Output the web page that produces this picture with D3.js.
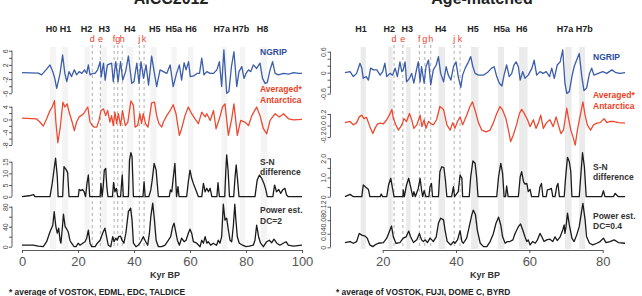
<!DOCTYPE html>
<html lang="en">
<head>
<meta charset="UTF-8">
<title>AICC2012 / Age-matched</title>
<style>
    body { margin: 0; background: #fff; }
    svg { display: block; }
    .title { font: bold 16px 'Liberation Sans', Arial, sans-serif; text-anchor: middle; fill: #222; }
    .event { font: bold 9px 'Liberation Sans', Arial, sans-serif; text-anchor: middle; fill: #222; }
    .letter { font: 9px 'Liberation Sans', Arial, sans-serif; text-anchor: middle; fill: #e8432c; }
    .dash { stroke: #9a9a9a; stroke-width: 0.8px; stroke-dasharray: 3, 3; }
    .series { fill: none; stroke-width: 1.3px; stroke-linejoin: round; }
    .y-axis text { font: 7px 'Liberation Sans', Arial, sans-serif; fill: #444; }
    .x-axis text { font: 13px 'Liberation Sans', Arial, sans-serif; fill: #555; }
    .y-axis path, .y-axis line, .x-axis path, .x-axis line { stroke: #333; stroke-width: 0.8px; }
    .tag { font: bold 8.5px 'Liberation Sans', Arial, sans-serif; }
    .axis-label { font: bold 9px 'Liberation Sans', Arial, sans-serif; text-anchor: middle; fill: #333; }
    .note { font: bold 8.4px 'Liberation Sans', Arial, sans-serif; fill: #222; }
</style>
</head>
<body>
<script src="https://d3js.org/d3.v7.min.js"></script>
<script>
// ---- AICC2012 panel data (kyr BP, value) ----
const aiccNgrip = [[0,-0.2],[5.8,-0.3],[7,-0.8],[8.8,0.8],[10,2.0],[11,0.1],[11.7,-1.8],[12.4,-4.6],[13.6,-0.4],[14.5,4.8],[15.3,-0.4],[16,-2.7],[16.8,0.1],[17.7,-1.3],[18.7,0.6],[19.5,-0.8],[20.4,0.1],[21.4,-0.4],[22.3,0.6],[23.1,-0.4],[23.7,2.0],[24.3,-0.8],[25.3,-0.4],[26.1,-0.4],[27,0.6],[27.9,2.9],[28.3,-1.3],[29.1,2.5],[29.7,-2.3],[30.5,2.0],[32,2.5],[32.6,-2.7],[33.5,2.9],[34.3,-2.7],[35.2,2.9],[36,-2.3],[37,0.1],[38,4.5],[39.2,-3.2],[40,-2.7],[41,2.5],[41.8,-3.2],[42.5,2.9],[43.4,-1.8],[44.3,2.0],[45.2,-3.7],[46.3,4.5],[47.3,-0.4],[48.1,-4.1],[49.3,0.6],[50.5,0.1],[51.7,-0.4],[52.9,2.0],[54,-4.1],[55.2,-0.4],[56.2,2.0],[57,-2.3],[57.9,2.6],[58.6,0.6],[59.5,2.9],[60.1,-1.3],[61.3,-1.1],[62.5,-0.4],[63.4,-0.4],[64.2,3.9],[65,-0.8],[66,0.1],[67.2,-0.4],[68.4,-0.4],[69.6,0.6],[70.5,2.9],[71.3,-4.1],[72.1,6.2],[73.1,-6.0],[73.9,-5.5],[74.8,1.5],[75.7,5.7],[76.7,-4.1],[77.5,0.1],[78.5,1.5],[79.3,-1.8],[80,-0.4],[80.9,0.6],[81.7,0.1],[82.6,2.0],[83.8,1.0],[85,2.5],[85.9,-1.8],[86.8,-3.2],[87.6,-3.0],[88.6,0.6],[89.5,2.9],[90.4,-0.4],[91.6,-0.8],[93.4,-0.4],[95.2,-0.6],[97,-0.2],[98.8,-0.4],[100,-0.4]];
const aiccAntarctica = [[0,0.4],[5.1,0.2],[6.4,-0.8],[7.6,-2.1],[8.8,0.2],[10,2.8],[10.8,3.9],[11.6,5.9],[12.1,-0.8],[12.8,-7.3],[13.6,-2.9],[14.6,5.4],[15.3,3.9],[16.1,4.9],[17,1.8],[17.9,-0.8],[18.7,-3.5],[19.5,-0.8],[20.4,0.8],[21.1,1.2],[22,1.8],[22.7,2.8],[23.5,3.9],[24.3,-0.8],[25.1,-1.9],[25.8,-2.4],[26.7,-2.4],[27.5,-0.3],[28.2,2.8],[29.1,3.3],[29.9,1.2],[30.6,2.8],[31.4,-0.8],[32,1.2],[32.6,-1.9],[33.2,2.3],[33.8,-1.3],[34.4,1.8],[35.2,-1.9],[35.9,2.8],[36.9,-1.9],[37.8,-0.8],[38.9,5.8],[39.8,4.4],[40.4,-2.4],[41.3,-1.9],[42.1,1.8],[42.7,-1.3],[43.3,1.8],[44.1,-1.3],[45,-2.4],[46.3,5.2],[47.3,5.4],[48.1,1.2],[48.9,-1.3],[49.9,-2.4],[50.5,-0.8],[51.7,1.2],[52.9,2.8],[54,4.6],[55,1.8],[56.2,-5.0],[57,-2.9],[58.2,1.2],[59.4,3.9],[60.6,1.8],[61.8,0.2],[63,-1.3],[64.2,2.3],[65.4,0.8],[66,1.8],[67.2,-0.3],[68.4,2.8],[69.3,-2.9],[70.5,0.2],[71.6,3.9],[72.5,4.9],[73.7,-5.0],[74.9,0.2],[75.7,4.9],[76.9,-5.0],[78.1,-0.3],[79.6,-0.8],[80.9,-1.9],[82.1,1.2],[83.8,3.9],[85,1.2],[86.2,-2.9],[87.4,-4.5],[88.6,-0.3],[90.4,1.8],[91.9,0.8],[93.4,1.8],[95.2,0.2],[97,-0.1],[100,0]];
const aiccDiff = [[0,0],[2.5,0.4],[4.2,0.9],[4.6,0],[10,0],[10.8,5.7],[11.5,12.2],[12,16.5],[12.6,8.6],[12.9,0],[14.5,0],[15,12.9],[15.7,11.7],[16.3,10.3],[16.8,0],[20.1,0],[20.4,3.1],[21,2.6],[21.6,3.1],[22.2,2.1],[22.7,0],[23.2,5.7],[23.7,9.3],[24.2,0],[27.9,0],[28.2,5.7],[28.6,0],[29,4.3],[29.4,11.4],[29.9,12.1],[30.3,4.3],[30.7,0],[32.3,0],[32.7,6.1],[33.2,2.1],[33.7,3.6],[34.2,0],[35.2,0],[35.8,9.3],[36.2,0],[38,0],[38.4,15.7],[38.9,18.9],[39.3,17.1],[39.8,0],[43.2,0],[43.6,6.4],[44,0],[45.3,0],[46,2.9],[46.5,7.1],[47.2,14.3],[47.9,11.4],[48.7,0],[52.6,0],[53,2.9],[53.5,2.1],[54,7.9],[54.6,14.3],[55.2,0],[55.7,4.3],[56.1,0],[58.8,0],[59.4,6.4],[60,11.4],[60.6,7.9],[61.2,5.7],[62.1,2.9],[63,0],[64.2,0],[64.8,5.7],[65.4,2.1],[66,3.6],[66.6,2.1],[67.2,3.6],[67.8,0],[69.6,0],[70,6.0],[70.5,0],[72.4,0],[72.8,11.4],[73.1,17.9],[73.6,11.4],[74.1,0],[75.6,0],[76.1,8.6],[76.5,13.6],[77,7.1],[77.5,0],[83.2,0],[84,7.1],[84.8,9.3],[85.6,7.9],[86.4,5.7],[87.1,2.9],[87.6,0],[89.6,0],[90.2,5.0],[90.9,2.1],[91.7,3.1],[92.4,1.4],[93.1,2.9],[93.9,3.6],[94.5,0.7],[95.1,0],[100,0]];
const aiccPower = [[0,3],[4,3],[5.8,1],[7.6,0],[8.8,10],[10,30],[11,43],[11.5,70],[12.1,40],[12.6,27],[13.1,37],[13.6,13],[13.9,7],[14.4,37],[14.8,65],[15.4,40],[16,35],[16.5,30],[17.1,13],[17.7,7],[18.6,0],[19.3,0],[20.1,7],[20.7,3],[21.7,7],[22.5,10],[23.1,17],[23.7,33],[24.3,7],[24.9,0],[26.1,0],[26.9,7],[27.9,13],[28.8,27],[29.6,37],[30.2,20],[30.8,3],[31.7,0],[32.4,20],[32.9,10],[33.5,17],[34,13],[34.5,20],[35.2,21],[35.7,13],[36.4,7],[37.1,27],[38,70],[38.8,77],[39.3,53],[39.8,7],[40.7,0],[41.5,3],[42.1,7],[42.7,13],[43.3,20],[44.2,10],[44.9,3],[45.5,27],[46,60],[46.7,87],[47.3,53],[47.9,13],[48.7,0],[49.9,0],[51.1,3],[52.3,13],[53.1,20],[53.8,40],[54.3,47],[54.9,30],[55.5,13],[56.2,3],[57,17],[57.9,10],[58.6,13],[59.4,27],[60,35],[60.6,27],[61.2,10],[62.4,7],[63.6,0],[64.2,13],[64.8,7],[65.4,20],[66,7],[66.5,10],[67.4,3],[68.3,7],[69.5,3],[70.1,13],[70.7,7],[71.3,20],[71.9,85],[72.5,53],[73.1,57],[73.7,33],[74.3,13],[74.9,10],[75.5,43],[76,85],[76.4,53],[76.9,20],[77.6,7],[78.8,3],[80,0],[81.2,1],[82.6,3],[83.2,13],[83.8,43],[84.5,20],[85.2,7],[86.2,0],[87.4,10],[88.3,13],[89.2,8],[90,15],[91,7],[92.1,3],[93.3,7],[94.3,10],[95.1,3],[96.9,1],[100,3]];

const aiccXTicks = [0, 20, 40, 60, 80, 100];
const aiccNgripTicks = [-6, -4, -2, 0, 2, 4, 6];
const aiccNgripLabels = ['-6', '', '-2', '', '2', '', '6'];
const aiccAntTicks = [-8, -6, -4, -2, 0, 2, 4];
const aiccAntLabels = ['-8', '', '-4', '', '0', '', '4'];
const aiccDiffTicks = [0, 5, 10, 15];
const aiccDiffLabels = ['0', '5', '10', '15'];
const aiccPowerTicks = [0, 20, 40, 60, 80];
const aiccPowerLabels = ['0', '', '40', '', '80'];

const aiccEvents = ['H0', 'H1', 'H2', 'H3', 'H4', 'H5', 'H5a', 'H6', 'H7a', 'H7b', 'H8'];
const aiccEventKyr = [10.5, 15.5, 23.0, 29.4, 38.5, 47.4, 54.2, 60.4, 71.3, 78.1, 85.9];
const aiccBands = [[10, 12.2], [14.3, 16.5], [22.3, 24.2], [28, 30.3], [37.5, 39.8], [45.8, 48.1], [53.4, 55.3], [59.3, 61.2], [71.3, 73.3], [77.9, 79.7], [85.2, 87.6]];
const aiccLetters = ['d', 'e', 'f', 'g', 'h', 'j', 'k'];
const aiccLetterKyr = [25.1, 28.0, 32.9, 34.2, 35.8, 41.9, 43.6];

// ---- Age-matched panel data ----
const ageNgrip = [[9.7,0],[11.1,0.03],[12,-0.11],[12.9,-0.02],[13.8,0.27],[14.3,0.13],[14.7,-0.16],[15.5,-0.11],[16.1,-0.21],[16.7,0.13],[17.5,0.08],[18.4,0.08],[19.3,-0.07],[20,0.03],[20.6,0.27],[21.1,-0.11],[22,-0.02],[22.7,-0.07],[23.4,0.13],[24,-0.11],[24.7,0.31],[25.2,0.03],[25.6,0.08],[26.1,0.31],[26.5,-0.26],[27.3,-0.16],[27.9,-0.02],[28.5,-0.3],[29.3,0.13],[29.7,0.31],[30.2,-0.26],[30.6,0.17],[31.3,-0.3],[31.8,0.17],[32.5,0.36],[33.1,-0.35],[33.8,0.08],[34.6,0.22],[35.2,0.46],[35.8,-0.02],[36.6,-0.26],[37.3,0.17],[37.9,-0.07],[38.6,-0.21],[39.3,0.17],[40,0.31],[40.6,-0.11],[41.3,-0.42],[41.8,-0.07],[42.5,0.13],[43.4,0.31],[44,0.46],[44.6,0.17],[45.2,-0.02],[46.1,-0.07],[47.5,-0.07],[48.8,0.03],[49.7,0.13],[50.4,0.17],[51.1,-0.11],[51.8,-0.3],[52.5,-0.38],[53.1,-0.07],[53.8,0.22],[54.5,-0.11],[55.2,-0.02],[55.8,0.22],[56.4,0.31],[57,0.17],[57.5,-0.21],[58.2,0.03],[58.8,-0.16],[59.7,-0.07],[60.7,0.13],[61.3,0.36],[62,-0.07],[62.9,0.03],[63.7,-0.02],[64.6,0.03],[65.5,-0.11],[66.1,0.13],[66.8,-0.16],[67.6,0.22],[68.4,0.31],[69.1,0.65],[69.7,-0.3],[70.2,-0.59],[70.9,-0.54],[71.6,-0.11],[72.2,0.17],[72.9,0.36],[73.6,0.55],[74.3,-0.11],[74.9,-0.51],[75.6,-0.44],[76.4,-0.02],[77,0.13],[77.6,-0.07],[78.8,-0.02],[80,0.03],[81.1,-0.02],[82.5,0.08],[83.6,0],[84.7,-0.02],[86.1,0]];
const ageAntarctica = [[9.7,0.05],[11.1,0.07],[12,0.01],[12.9,0.05],[13.6,0.15],[14.3,0.18],[14.9,0.12],[15.6,0.14],[16.5,-0.02],[17.3,-0.14],[17.9,-0.05],[18.6,0.03],[19.5,0.04],[20.2,0.03],[21.1,0.1],[21.8,0.18],[22.5,0.28],[22.9,0.12],[23.6,0.01],[24.3,-0.08],[25.2,0.01],[25.8,0.12],[26.5,0.07],[27.3,0.21],[27.9,0.1],[28.5,-0.05],[29.3,0.01],[30.2,0.18],[30.7,-0.02],[31.3,0.1],[31.8,-0.05],[32.5,0.07],[33.1,0.04],[33.8,0.01],[34.7,0.1],[35.6,0.33],[36.6,0.28],[37.5,0.01],[38.4,-0.08],[39.1,0.05],[39.7,-0.05],[40.4,0.07],[41.1,0.15],[41.8,0.01],[42.9,0.18],[43.8,0.33],[44.5,0.41],[45.3,0.24],[46.1,0.05],[47,-0.08],[48.2,-0.11],[49.3,-0.08],[50.2,0.05],[51.1,0.21],[52,0.33],[52.7,0.27],[53.6,0.12],[54.4,-0.11],[54.9,-0.28],[55.6,-0.17],[56.5,0.01],[57.3,0.21],[57.9,0.28],[58.6,0.21],[59.5,0.1],[60.2,-0.02],[61.1,0.1],[61.8,-0.05],[62.5,0.05],[63.1,0.18],[63.8,-0.05],[64.7,0.05],[65.6,0.1],[66.5,-0.02],[67.3,0.15],[67.9,0.01],[68.6,-0.14],[69.3,-0.08],[70.2,0.3],[70.6,0.15],[71.3,-0.08],[72,-0.22],[72.5,-0.34],[73.1,-0.08],[73.8,0.15],[74.6,0.41],[75.2,0.18],[75.8,0.01],[76.7,-0.08],[77.5,0.01],[78.4,0.04],[79.3,0.05],[80.4,0.12],[81.1,0.05],[82,0.07],[82.9,0.07],[84.3,0.05],[86.1,0.04]];
const ageDiff = [[9.7,0],[11.1,0.12],[12,0],[14.3,0],[14.7,0.61],[15.4,0.49],[16.1,0.38],[16.5,0],[19.3,0],[19.6,0.14],[20,0],[21.1,0],[21.6,0.61],[22.2,0.96],[22.6,0.52],[23.1,0],[25.5,0],[25.6,0.35],[25.9,0],[26.5,0.61],[27.1,0.96],[27.6,0.52],[28.2,0],[28.5,0.26],[28.9,0],[29.7,0.43],[30.2,0.96],[30.6,0.35],[30.9,0],[31.3,0.31],[31.8,0],[32.6,0],[32.9,0.52],[33.3,0.69],[33.6,0],[35.2,0],[35.6,1.3],[36.1,1.56],[36.7,1.51],[37.1,0.87],[37.5,0],[38.8,0],[39.3,0.52],[39.6,0],[40.6,0.26],[41.1,1.13],[41.6,0.96],[41.8,0],[43.6,0],[44,1.04],[44.6,1.86],[45.2,1.74],[45.6,1.04],[46,0],[51.1,0],[51.6,1.04],[52.2,1.74],[52.7,1.22],[53.1,0],[53.5,0],[53.8,0.56],[54.2,0],[57,0],[57.5,1.04],[57.9,1.3],[58.4,0.78],[58.8,0.66],[59.3,0.69],[59.7,0.26],[60.2,0.38],[60.6,0],[62.5,0],[62.9,0.52],[63.3,0.69],[63.7,0],[64.6,0],[64.9,0.35],[65.5,0.38],[66,0.43],[66.4,0],[67,0],[67.5,0.56],[67.8,0.69],[68.2,0],[69.5,0],[69.9,1.04],[70.4,2.05],[70.9,1.82],[71.3,1.3],[71.6,0],[73.6,0],[74,1.04],[74.5,2.29],[75,1.56],[75.5,0],[79.7,0],[80.2,0.31],[80.6,0],[82.9,0],[83.4,0.17],[83.8,0.09],[84.3,0],[86.1,0]];
const agePower = [[9.7,0.014],[11.1,0.017],[12,0.012],[12.9,0.017],[13.6,0.041],[14.3,0.036],[15.2,0.033],[15.8,0.027],[16.5,0.007],[17.3,0.002],[17.9,0.007],[18.8,0.012],[20.2,0.014],[21.1,0.027],[21.8,0.046],[22.4,0.063],[22.9,0.031],[23.6,0.012],[24.7,0.014],[25.6,0.027],[26.4,0.031],[27.1,0.048],[27.6,0.031],[28.4,0.014],[29.3,0.022],[30,0.041],[30.6,0.022],[31.1,0.017],[31.6,0.022],[32.2,0.014],[32.9,0.027],[33.4,0.022],[33.8,0.017],[34.6,0.031],[35.2,0.071],[35.8,0.086],[36.6,0.081],[37,0.051],[37.6,0.017],[38.6,0.007],[39.3,0.017],[39.7,0.012],[40.4,0.022],[41.1,0.049],[41.6,0.017],[42,0.012],[42.9,0.027],[43.6,0.061],[44.3,0.096],[44.7,0.11],[45.3,0.096],[45.8,0.051],[46.6,0.012],[47.5,0.002],[48.4,0.002],[49.3,0.017],[50.2,0.041],[50.9,0.071],[51.6,0.089],[52.2,0.066],[52.7,0.031],[53.4,0.012],[54,0.017],[54.7,0.017],[55.5,0.022],[56.1,0.041],[57,0.061],[57.6,0.069],[58.2,0.051],[58.8,0.031],[59.3,0.017],[59.7,0.022],[60.2,0.007],[60.9,0.017],[61.6,0.012],[62.2,0.022],[62.9,0.041],[63.4,0.031],[64,0.017],[64.7,0.022],[65.6,0.024],[66.4,0.017],[67,0.031],[67.6,0.02],[68.4,0.031],[69.1,0.051],[69.5,0.066],[69.7,0.041],[70,0.061],[70.4,0.101],[70.9,0.066],[71.6,0.027],[72.2,0.017],[72.9,0.036],[73.6,0.061],[74.3,0.11],[74.6,0.13],[75.2,0.081],[75.6,0.031],[76.4,0.012],[77.3,0.007],[78.4,0.012],[79.3,0.017],[80.2,0.027],[80.9,0.014],[82,0.017],[83.1,0.022],[84.3,0.014],[86.1,0.012]];

const ageXTicks = [20, 40, 60, 80];
const ageNgripTicks = [-0.6, -0.4, -0.2, 0, 0.2, 0.4, 0.6];
const ageNgripLabels = ['-0.6', '', '', '0', '', '', '0.6'];
const ageAntTicks = [-0.2, 0, 0.2];
const ageAntLabels = ['-0.2', '0.0', '0.2'];
const ageDiffTicks = [0, 0.5, 1, 1.5, 2];
const ageDiffLabels = ['0', '', '1.0', '', '2.0'];
const agePowerTicks = [0, 0.04, 0.08, 0.12];
const agePowerLabels = ['0', '0.04', '0.08', '0.12'];

const ageEvents = ['H1', 'H2', 'H3', 'H4', 'H5', 'H5a', 'H6', 'H7a', 'H7b'];
const ageEventKyr = [14.1, 21.8, 26.7, 35.8, 44.6, 52.5, 57.9, 69.7, 75.0];
const ageBands = [[14.0, 15.4], [21.5, 22.7], [26.4, 27.6], [35.2, 37.0], [44.1, 46.1], [51.4, 53.1], [57.2, 59.5], [69.7, 71.5], [73.6, 75.2]];
const ageLetters = ['d', 'e', 'f', 'g', 'h', 'j', 'k'];
const ageLetterKyr = [23.1, 25.5, 30.0, 31.5, 33.1, 39.5, 41.1];

const blue = '#3b5dab';
const red = '#ee4a32';
const black = '#1b1b1b';

const svg = d3.select('body').append('svg')
    .attr('width', 642)
    .attr('height', 296);

function drawPanel(p) {
    const g = svg.append('g');
    const x = d3.scaleLinear().domain(p.xDomain).range(p.xRange);

    // Heinrich event bands
    g.selectAll('rect.band')
        .data(p.bands)
        .join('rect')
        .attr('class', 'band')
        .attr('fill', p.bandColor)
        .attr('x', d => x(d[0]))
        .attr('width', d => x(d[1]) - x(d[0]))
        .attr('y', 47)
        .attr('height', 202);

    g.selectAll('line.dash')
        .data(p.letterKyr)
        .join('line')
        .attr('class', 'dash')
        .attr('x1', d => x(d)).attr('x2', d => x(d))
        .attr('y1', 45).attr('y2', 246);

    g.append('text')
        .attr('class', 'title')
        .attr('x', p.titleX)
        .attr('y', 3.5)
        .text(p.title);

    g.selectAll('text.event')
        .data(p.events)
        .join('text')
        .attr('class', 'event')
        .attr('x', (d, i) => x(p.eventKyr[i]))
        .attr('y', 32)
        .text(d => d);

    g.selectAll('text.letter')
        .data(p.letters)
        .join('text')
        .attr('class', 'letter')
        .attr('x', (d, i) => x(p.letterKyr[i]))
        .attr('y', 42)
        .text(d => d);

    p.rows.forEach(row => {
        const y = d3.scaleLinear().domain(row.domain).range(row.range);

        const ax = g.append('g')
            .attr('class', 'y-axis')
            .attr('transform', `translate(${p.axisX}, 0)`)
            .call(d3.axisLeft(y)
                .tickValues(row.ticks)
                .tickSize(3)
                .tickSizeOuter(0)
                .tickFormat((d, i) => row.labels[i]));
        ax.select('.domain')
            .attr('d', `M0,${y(row.ticks[0])}V${y(row.ticks[row.ticks.length - 1])}`);
        ax.selectAll('text')
            .attr('transform', 'rotate(-90)')
            .attr('x', 0)
            .attr('y', -4.5)
            .attr('dy', 0)
            .attr('text-anchor', 'middle');

        g.append('path')
            .datum(row.data)
            .attr('class', 'series')
            .attr('stroke', row.color)
            .attr('d', d3.line().x(d => x(d[0])).y(d => y(d[1])));

        row.tag.forEach((t, i) => {
            g.append('text')
                .attr('class', 'tag')
                .attr('x', p.tagX)
                .attr('y', row.tagY + i * 10.5)
                .attr('fill', row.tagColor)
                .text(t);
        });
    });

    g.append('g')
        .attr('class', 'x-axis')
        .attr('transform', 'translate(0, 250)')
        .call(d3.axisBottom(x)
            .tickValues(p.xTicks)
            .tickSize(3)
            .tickSizeOuter(0)
            .tickPadding(4));

    g.append('text')
        .attr('class', 'axis-label')
        .attr('x', p.kyrX)
        .attr('y', 278)
        .text('Kyr BP');

    g.append('text')
        .attr('class', 'note')
        .attr('x', p.noteX)
        .attr('y', 295)
        .text(p.note);
}

drawPanel({
    title: 'AICC2012',
    titleX: 171,
    xDomain: [0, 100],
    xRange: [22, 302],
    xTicks: aiccXTicks,
    axisX: 12,
    tagX: 260,
    kyrX: 165,
    noteX: 9,
    note: '* average of VOSTOK, EDML, EDC, TALDICE',
    bandColor: '#f4f4f4',
    bands: aiccBands,
    events: aiccEvents,
    eventKyr: aiccEventKyr,
    letters: aiccLetters,
    letterKyr: aiccLetterKyr,
    rows: [
        { data: aiccNgrip, color: blue, domain: [-6, 6], range: [93.3, 50.7], ticks: aiccNgripTicks, labels: aiccNgripLabels, tag: ['NGRIP'], tagColor: '#2c4c9e', tagY: 55 },
        { data: aiccAntarctica, color: red, domain: [-8, 4], range: [145, 106.7], ticks: aiccAntTicks, labels: aiccAntLabels, tag: ['Averaged*', 'Antarctica'], tagColor: '#ec3f26', tagY: 92 },
        { data: aiccDiff, color: black, domain: [0, 15], range: [196.7, 161.7], ticks: aiccDiffTicks, labels: aiccDiffLabels, tag: ['S-N', 'difference'], tagColor: '#333', tagY: 164.5 },
        { data: aiccPower, color: black, domain: [0, 80], range: [246.7, 206.7], ticks: aiccPowerTicks, labels: aiccPowerLabels, tag: ['Power est.', 'DC=2'], tagColor: '#333', tagY: 213 }
    ]
});

drawPanel({
    title: 'Age-matched',
    titleX: 482,
    xDomain: [20, 80],
    xRange: [382.7, 602.7],
    xTicks: ageXTicks,
    axisX: 330.5,
    tagX: 593,
    kyrX: 485,
    noteX: 336,
    note: '* average of VOSTOK, FUJI, DOME C, BYRD',
    bandColor: '#ebebeb',
    bands: ageBands,
    events: ageEvents,
    eventKyr: ageEventKyr,
    letters: ageLetters,
    letterKyr: ageLetterKyr,
    rows: [
        { data: ageNgrip, color: blue, domain: [-0.6, 0.6], range: [93.7, 51.7], ticks: ageNgripTicks, labels: ageNgripLabels, tag: ['NGRIP'], tagColor: '#2c4c9e', tagY: 60 },
        { data: ageAntarctica, color: red, domain: [-0.2, 0.2], range: [137, 114], ticks: ageAntTicks, labels: ageAntLabels, tag: ['Averaged*', 'Antarctica'], tagColor: '#ec3f26', tagY: 98 },
        { data: ageDiff, color: black, domain: [0, 2], range: [196.7, 158.3], ticks: ageDiffTicks, labels: ageDiffLabels, tag: ['S-N', 'difference'], tagColor: '#333', tagY: 169.5 },
        { data: agePower, color: black, domain: [0, 0.12], range: [247.3, 206.7], ticks: agePowerTicks, labels: agePowerLabels, tag: ['Power est.', 'DC=0.4'], tagColor: '#333', tagY: 218.5 }
    ]
});
</script>
</body>
</html>
